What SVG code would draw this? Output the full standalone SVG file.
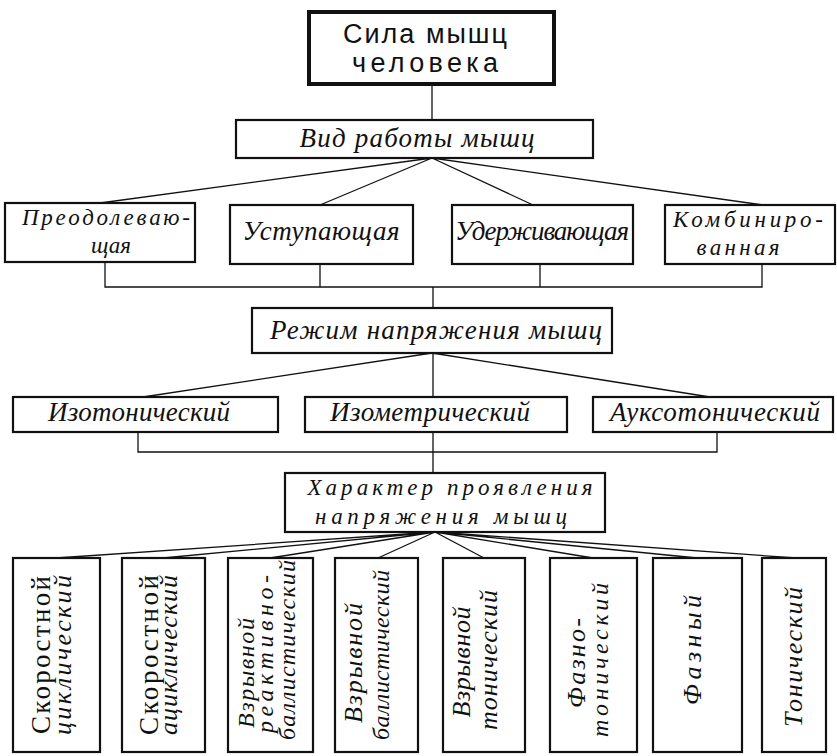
<svg xmlns="http://www.w3.org/2000/svg" width="837" height="756" viewBox="0 0 837 756">
<style>
.box{fill:#fff;stroke:#111;stroke-width:2.2}
.top{fill:#fff;stroke:#111;stroke-width:4}
.ln{fill:none;stroke:#111;stroke-width:1.3}
.t{font-family:"Liberation Serif","DejaVu Serif",serif;font-style:italic;font-size:27px;fill:#111;text-anchor:middle}
.s{font-family:"Liberation Sans","DejaVu Sans",sans-serif;font-size:27px;fill:#111;text-anchor:middle}
.u{font-family:"Liberation Serif","DejaVu Serif",serif;font-size:27px;fill:#111;text-anchor:middle}
.v{font-size:26px}
.w{font-size:24px}
.d{font-size:23px}
</style>
<rect width="837" height="756" fill="#fff"/>
<g id="connectors">
<path class="ln" d="M432,84 V120"/>
<path class="ln" d="M432,158 L100,203 M432,158 L320,205 M432,158 L533,205 M432,158 L763,205"/>
<path class="ln" d="M105,262 V287 H762 V264 M320,264 V287 M540,264 V287 M433,287 V308"/>
<path class="ln" d="M432,353 L143,397 M432,353 L710,397 M433,353 V397"/>
<path class="ln" d="M138,432 V452 H717 V432 M433,432 V473"/>
<path class="ln" d="M435,532 L56,558 M435,532 L163,558 M435,532 L270,558 M435,532 L378,558 M435,532 L484,558 M435,532 L593,558 M435,532 L697,558 M435,532 L796,558"/>
</g>
<g id="n-sila"><rect class="top" x="309" y="12" width="245" height="72"/>
<text class="s" x="425" y="43" textLength="164" lengthAdjust="spacing">Сила мышц</text>
<text class="s" x="425" y="72" textLength="146" lengthAdjust="spacing">человека</text></g>
<g id="n-vid"><rect class="box" x="236" y="120" width="357" height="38"/>
<text class="t" x="417" y="147" textLength="235" lengthAdjust="spacing">Вид работы мышц</text></g>
<g id="n-preod"><rect class="box" x="5" y="203" width="190" height="59"/>
<text class="t d" x="106" y="225" textLength="168" lengthAdjust="spacing">Преодолеваю-</text>
<text class="t d" x="111" y="253">щая</text></g>
<g id="n-ustup"><rect class="box" x="230" y="205" width="183" height="59"/>
<text class="t" x="321" y="240" textLength="157" lengthAdjust="spacing">Уступающая</text></g>
<g id="n-uderzh"><rect class="box" x="452" y="205" width="181" height="59"/>
<text class="t" x="542" y="240" textLength="174" lengthAdjust="spacing">Удерживающая</text></g>
<g id="n-komb"><rect class="box" x="665" y="205" width="170" height="59"/>
<text class="t d" x="748" y="227" textLength="150" lengthAdjust="spacing">Комбиниро-</text>
<text class="t d" x="738" y="255" textLength="83" lengthAdjust="spacing">ванная</text></g>
<g id="n-rezhim"><rect class="box" x="252" y="308" width="360" height="45"/>
<text class="t" x="436" y="339" textLength="332" lengthAdjust="spacing">Режим напряжения мышц</text></g>
<g id="n-izoton"><rect class="box" x="13" y="397" width="265" height="35"/>
<text class="t" x="139" y="421" textLength="182" lengthAdjust="spacing">Изотонический</text></g>
<g id="n-izomet"><rect class="box" x="305" y="397" width="262" height="35"/>
<text class="t" x="430" y="421" textLength="200" lengthAdjust="spacing">Изометрический</text></g>
<g id="n-aukso"><rect class="box" x="593" y="397" width="240" height="35"/>
<text class="t" x="715" y="421" textLength="210" lengthAdjust="spacing">Ауксотонический</text></g>
<g id="n-harakter"><rect class="box" x="285" y="473" width="320" height="59"/>
<text class="t d" x="450" y="495" textLength="285" lengthAdjust="spacing">Характер проявления</text>
<text class="t d" x="441" y="524" textLength="252" lengthAdjust="spacing">напряжения мышц</text></g>
<g id="n-b1"><rect class="box" x="13" y="558" width="87" height="194"/>
<text class="u" transform="translate(50,655) rotate(-90)" textLength="158" lengthAdjust="spacing">Скоростной</text>
<text class="t v" transform="translate(71,655) rotate(-90)" textLength="160" lengthAdjust="spacing">циклический</text></g>
<g id="n-b2"><rect class="box" x="122" y="558" width="83" height="194"/>
<text class="u" transform="translate(158,655) rotate(-90)" textLength="160" lengthAdjust="spacing">Скоростной</text>
<text class="t v" transform="translate(177,655) rotate(-90)" textLength="160" lengthAdjust="spacing">ациклический</text></g>
<g id="n-b3"><rect class="box" x="228" y="558" width="85" height="194"/>
<text class="t w" transform="translate(254,673) rotate(-90)" textLength="110" lengthAdjust="spacing">Взрывной</text>
<text class="t w" transform="translate(273,654) rotate(-90)" textLength="158" lengthAdjust="spacing">реактивно-</text>
<text class="t w" transform="translate(295,650) rotate(-90)" textLength="180" lengthAdjust="spacing">баллистический</text></g>
<g id="n-b4"><rect class="box" x="335" y="558" width="83" height="194"/>
<text class="t v" transform="translate(362,663) rotate(-90)" textLength="120" lengthAdjust="spacing">Взрывной</text>
<text class="t w" transform="translate(389,655) rotate(-90)" textLength="170" lengthAdjust="spacing">баллистический</text></g>
<g id="n-b5"><rect class="box" x="443" y="558" width="82" height="194"/>
<text class="t v" transform="translate(470,662) rotate(-90)" textLength="111" lengthAdjust="spacing">Взрывной</text>
<text class="t v" transform="translate(497,660) rotate(-90)" textLength="140" lengthAdjust="spacing">тонический</text></g>
<g id="n-b6"><rect class="box" x="550" y="558" width="87" height="194"/>
<text class="t v" transform="translate(585,663) rotate(-90)" textLength="90" lengthAdjust="spacing">Фазно-</text>
<text class="t w" transform="translate(608,660) rotate(-90)" textLength="154" lengthAdjust="spacing">тонический</text></g>
<g id="n-b7"><rect class="box" x="653" y="558" width="89" height="194"/>
<text class="t v" transform="translate(701,650) rotate(-90)" textLength="110" lengthAdjust="spacing">Фазный</text></g>
<g id="n-b8"><rect class="box" x="762" y="558" width="64" height="194"/>
<text class="t v" transform="translate(802,657) rotate(-90)" textLength="140" lengthAdjust="spacing">Тонический</text></g>
</svg>
